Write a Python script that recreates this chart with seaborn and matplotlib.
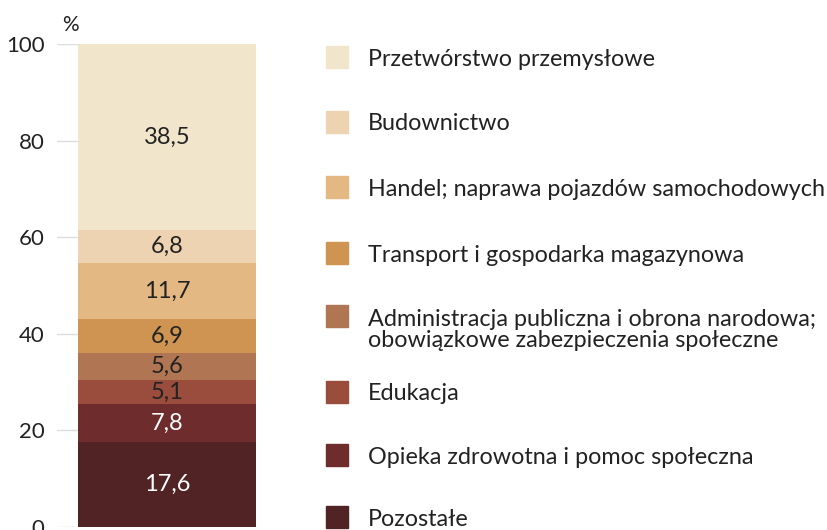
import matplotlib
matplotlib.use("Agg")
import matplotlib.pyplot as plt
import seaborn as sns
import numpy as np
import pandas as pd
from matplotlib.patches import Rectangle

# bottom -> top
categories = [
    "Pozostałe",
    "Opieka zdrowotna i pomoc społeczna",
    "Edukacja",
    "Administracja publiczna i obrona narodowa;\nobowiązkowe zabezpieczenia społeczne",
    "Transport i gospodarka magazynowa",
    "Handel; naprawa pojazdów samochodowych",
    "Budownictwo",
    "Przetwórstwo przemysłowe",
]
values = [17.6, 7.8, 5.1, 5.6, 6.9, 11.7, 6.8, 38.5]
value_labels = ["17,6", "7,8", "5,1", "5,6", "6,9", "11,7", "6,8", "38,5"]
colors = ["#522325", "#6E2C2C", "#9B4D3D", "#B07552", "#CF9352",
          "#E3B883", "#EDD3B1", "#F1E6CC"]
label_colors = ["white", "white", "#222222", "#222222", "#222222",
                "#222222", "#222222", "#222222"]
yticks = [0, 20, 40, 60, 80, 100]

sns.set_theme(style="white")
FONT = "Lato"
plt.rcParams["font.family"] = [FONT, "DejaVu Sans"]

W, H = 827, 530
fig = plt.figure(figsize=(W / 100, H / 100), dpi=100)
ax = fig.add_axes([57 / W, 3 / H, (256 - 57) / W, (527 - 44) / H])

cum = np.cumsum(values)
# draw from the top layer down so lower layers overlay
for i in range(len(values) - 1, -1, -1):
    sns.barplot(x=[0], y=[cum[i]], color=colors[i], width=1.0,
                saturation=1, ax=ax, native_scale=True, zorder=2,
                linewidth=0)

bottoms = cum - np.array(values)
for i, v in enumerate(values):
    ax.text(0, bottoms[i] + v / 2, value_labels[i], ha="center", va="center",
            fontsize=17, color=label_colors[i], zorder=3)

ax.set_ylim(0, 100)
ax.set_xlim(-0.5 - 21 / 178, 0.5)
ax.set_yticks(yticks)
ax.set_yticklabels([str(t) for t in yticks], fontsize=16, color="#222222")
ax.tick_params(axis="y", length=0, pad=9)
ax.set_xticks([])
ax.set_xlabel("")
ax.set_ylabel("")
for s in ax.spines.values():
    s.set_visible(False)
ax.grid(axis="y", color="#DDDDDD", linewidth=1, zorder=0)
ax.set_axisbelow(True)
ax.text(62 / W, 1 - 25 / H, "%", transform=fig.transFigure, fontsize=15,
        color="#222222", ha="left", va="center")

# legend (top -> bottom)
leg_y = [57, 122, 187, 253, 316, 392, 455, 517]
for j, y in enumerate(leg_y):
    i = len(values) - 1 - j
    fig.patches.append(Rectangle((326 / W, (H - y - 11) / H), 22 / W, 22 / H,
                                 transform=fig.transFigure, color=colors[i]))
    txt = categories[i]
    ty = y + 2 + (12 if "\n" in txt else 0)
    fig.text(368 / W, 1 - ty / H, txt, fontsize=16.8, color="#222222",
             ha="left", va="center", linespacing=1.05)

fig.savefig("out.png", dpi=100)
